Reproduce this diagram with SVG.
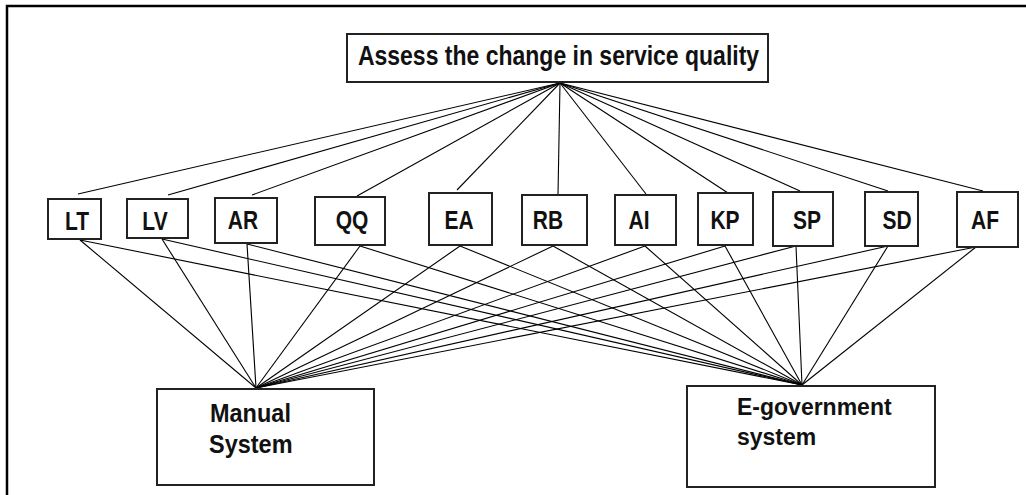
<svg xmlns="http://www.w3.org/2000/svg" width="1026" height="495" viewBox="0 0 1026 495">
  <style>
    .frame { fill: none; stroke: #000; stroke-width: 2.5; }
    .box { fill: #fff; stroke: #222; stroke-width: 2; }
    .lbl { font-family: "Liberation Sans", Arial, sans-serif; font-weight: bold; fill: #111; }
    .edge { stroke: #000; stroke-width: 1.1; fill: none; }
  </style>
  <rect x="0" y="0" width="1026" height="495" fill="#fff"/>
  <!-- page frame: only top and left edges fall inside the view -->
  <path class="frame" d="M7,495 V6 H1026"/>

  <g id="connectors">
    <!-- goal to criteria -->
    <g>
      <line class="edge" x1="560" y1="83" x2="78" y2="194"/>
      <line class="edge" x1="560" y1="83" x2="168" y2="195"/>
      <line class="edge" x1="560" y1="83" x2="252" y2="195"/>
      <line class="edge" x1="560" y1="83" x2="357" y2="196"/>
      <line class="edge" x1="560" y1="83" x2="457" y2="190"/>
      <line class="edge" x1="560" y1="83" x2="558" y2="195"/>
      <line class="edge" x1="560" y1="83" x2="646" y2="194"/>
      <line class="edge" x1="560" y1="83" x2="728" y2="193"/>
      <line class="edge" x1="560" y1="83" x2="800" y2="191"/>
      <line class="edge" x1="560" y1="83" x2="888" y2="191"/>
      <line class="edge" x1="560" y1="83" x2="983" y2="191"/>
    </g>
    <!-- criteria to Manual System -->
    <g>
      <line class="edge" x1="80" y1="240" x2="256" y2="388"/>
      <line class="edge" x1="162" y1="239" x2="256" y2="388"/>
      <line class="edge" x1="247" y1="244" x2="256" y2="388"/>
      <line class="edge" x1="360" y1="246" x2="256" y2="388"/>
      <line class="edge" x1="460" y1="246" x2="256" y2="388"/>
      <line class="edge" x1="553" y1="246" x2="256" y2="388"/>
      <line class="edge" x1="645" y1="246" x2="256" y2="388"/>
      <line class="edge" x1="725" y1="246" x2="256" y2="388"/>
      <line class="edge" x1="796" y1="246" x2="256" y2="388"/>
      <line class="edge" x1="888" y1="246" x2="256" y2="388"/>
      <line class="edge" x1="976" y1="247" x2="256" y2="388"/>
    </g>
    <!-- criteria to E-government system -->
    <g>
      <line class="edge" x1="80" y1="240" x2="802" y2="385"/>
      <line class="edge" x1="162" y1="239" x2="802" y2="385"/>
      <line class="edge" x1="247" y1="244" x2="802" y2="385"/>
      <line class="edge" x1="360" y1="246" x2="802" y2="385"/>
      <line class="edge" x1="460" y1="246" x2="802" y2="385"/>
      <line class="edge" x1="553" y1="246" x2="802" y2="385"/>
      <line class="edge" x1="645" y1="246" x2="802" y2="385"/>
      <line class="edge" x1="725" y1="246" x2="802" y2="385"/>
      <line class="edge" x1="796" y1="246" x2="802" y2="385"/>
      <line class="edge" x1="888" y1="246" x2="802" y2="385"/>
      <line class="edge" x1="976" y1="247" x2="802" y2="385"/>
    </g>
  </g>

  <g id="goal">
    <rect class="box" x="347" y="34" width="421" height="48"/>
    <text class="lbl" font-size="23" text-anchor="middle" transform="translate(558.5,65) scale(1,1.2)">Assess the change in service quality</text>
  </g>

  <g id="LT">
    <rect class="box" x="48" y="199" width="53" height="40"/>
    <text class="lbl" font-size="21" text-anchor="middle" transform="translate(77,230) scale(1,1.26)">LT</text>
  </g>
  <g id="LV">
    <rect class="box" x="127" y="199" width="61" height="39"/>
    <text class="lbl" font-size="21" text-anchor="middle" transform="translate(155,230) scale(1,1.26)">LV</text>
  </g>
  <g id="AR">
    <rect class="box" x="215" y="198" width="62" height="45"/>
    <text class="lbl" font-size="21" text-anchor="middle" transform="translate(243,229) scale(1,1.26)">AR</text>
  </g>
  <g id="QQ">
    <rect class="box" x="315" y="197" width="70" height="48"/>
    <text class="lbl" font-size="21" text-anchor="middle" transform="translate(352,229) scale(1,1.26)">QQ</text>
  </g>
  <g id="EA">
    <rect class="box" x="429" y="193" width="63" height="52"/>
    <text class="lbl" font-size="21" text-anchor="middle" transform="translate(459,229) scale(1,1.26)">EA</text>
  </g>
  <g id="RB">
    <rect class="box" x="522" y="195" width="65" height="50"/>
    <text class="lbl" font-size="21" text-anchor="middle" transform="translate(548,229) scale(1,1.26)">RB</text>
  </g>
  <g id="AI">
    <rect class="box" x="615" y="195" width="61" height="50"/>
    <text class="lbl" font-size="21" text-anchor="middle" transform="translate(639,229) scale(1,1.26)">AI</text>
  </g>
  <g id="KP">
    <rect class="box" x="698" y="193" width="55" height="52"/>
    <text class="lbl" font-size="21" text-anchor="middle" transform="translate(725,229) scale(1,1.26)">KP</text>
  </g>
  <g id="SP">
    <rect class="box" x="773" y="192" width="60" height="54"/>
    <text class="lbl" font-size="21" text-anchor="middle" transform="translate(807,229) scale(1,1.26)">SP</text>
  </g>
  <g id="SD">
    <rect class="box" x="865" y="192" width="53" height="54"/>
    <text class="lbl" font-size="21" text-anchor="middle" transform="translate(897,229) scale(1,1.26)">SD</text>
  </g>
  <g id="AF">
    <rect class="box" x="957" y="192" width="61" height="55"/>
    <text class="lbl" font-size="21" text-anchor="middle" transform="translate(985,229) scale(1,1.26)">AF</text>
  </g>

  <g id="manual">
    <rect class="box" x="157" y="389" width="217" height="96"/>
    <text class="lbl" font-size="23.5" transform="translate(210,422) scale(1,1.1)">Manual</text>
    <text class="lbl" font-size="23.5" transform="translate(209,453) scale(1,1.1)">System</text>
  </g>
  <g id="egov">
    <rect class="box" x="687" y="386" width="248" height="101"/>
    <text class="lbl" font-size="23" transform="translate(737,415) scale(1,1.05)">E-government</text>
    <text class="lbl" font-size="23" transform="translate(737,445) scale(1,1.05)">system</text>
  </g>
</svg>
